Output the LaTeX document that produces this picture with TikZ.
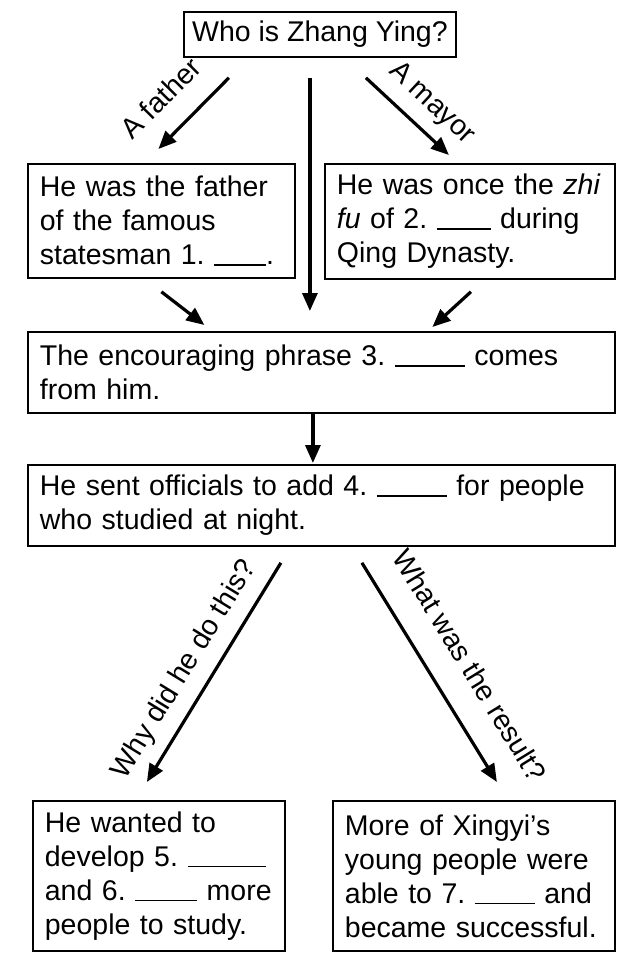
\documentclass[tikz,border=0pt]{standalone}
\usepackage{fontspec}
\setmainfont{Liberation Sans}
\usetikzlibrary{arrows.meta}

\newcommand{\blank}[1]{\rule[-1pt]{#1}{1.4pt}}
\frenchspacing

\begin{document}
\begin{tikzpicture}[x=1pt, y=-1pt,
  box/.style={draw, line width=1.8pt, anchor=north west, align=left, inner xsep=12pt, inner ysep=0pt, font=\fontsize{28.5}{34}\selectfont},
  arr/.style={line width=3.2pt, -{Triangle[length=18pt,width=15pt]}},
  lab/.style={font=\fontsize{28.5}{34}\selectfont, sloped, above=8pt}]

\useasboundingbox (0,0) rectangle (640,969);

% boxes
\node[box, align=center, inner xsep=5pt, minimum width=272pt, minimum height=45pt] (T) at (183,11) {Who is Zhang Ying?};

\node[box, text width=243pt, minimum height=114pt] (A) at (27,163) {He was the father\\of the famous\\statesman 1. \blank{52pt}.};
\node[box, text width=266pt, minimum height=115pt] (B) at (324,163) {He was once the \textit{zhi}\\\textit{fu} of 2. \blank{54pt} during\\Qing Dynasty.};

\node[box, text width=563pt, minimum height=81pt] (C) at (27,331) {The encouraging phrase 3. \blank{70pt} comes\\from him.};
\node[box, text width=563pt, minimum height=81pt] (D) at (27,464) {He sent officials to add 4. \blank{70pt} for people\\who studied at night.};

\node[box, text width=228pt, minimum height=150pt] (E) at (32,800) {He wanted to\\develop 5. \blank{78pt}\\and 6. \blank{62pt} more\\people to study.};
\node[box, text width=258pt, minimum height=150pt] (F) at (332,800) {More of Xingyi’s\\young people were\\able to 7. \blank{60pt} and\\became successful.};

% arrows
\draw[arr] ([shift={(-91,20)}]T.south) -- node[lab, pos=0.62, above=11pt]{A father} ([shift={(-3,-14)}]A.north);
\draw[arr] ([shift={(-10,20)}]T.south) -- ([shift={(-11.5,-20)}]C.north);
\draw[arr] ([shift={(46,20)}]T.south) -- node[lab, pos=0.58]{A mayor} ([shift={(-21,-8)}]B.north);

\draw[arr] ([shift={(0,13)}]A.south) -- ([shift={(-117,-6)}]C.north);
\draw[arr] ([shift={(1,12)}]B.south) -- ([shift={(111,-4)}]C.north);

\draw[arr] ([shift={(-8.5,0)}]C.south) -- ([shift={(-8.5,-1)}]D.north);

\draw[arr] ([shift={(-40.5,16)}]D.south) -- node[lab, pos=0.55]{Why did he do this?} ([shift={(-12,-18)}]E.north);
\draw[arr] ([shift={(40.5,16)}]D.south) -- node[lab, pos=0.56, above=15pt]{What was the result?} ([shift={(23,-18)}]F.north);

\end{tikzpicture}
\end{document}
